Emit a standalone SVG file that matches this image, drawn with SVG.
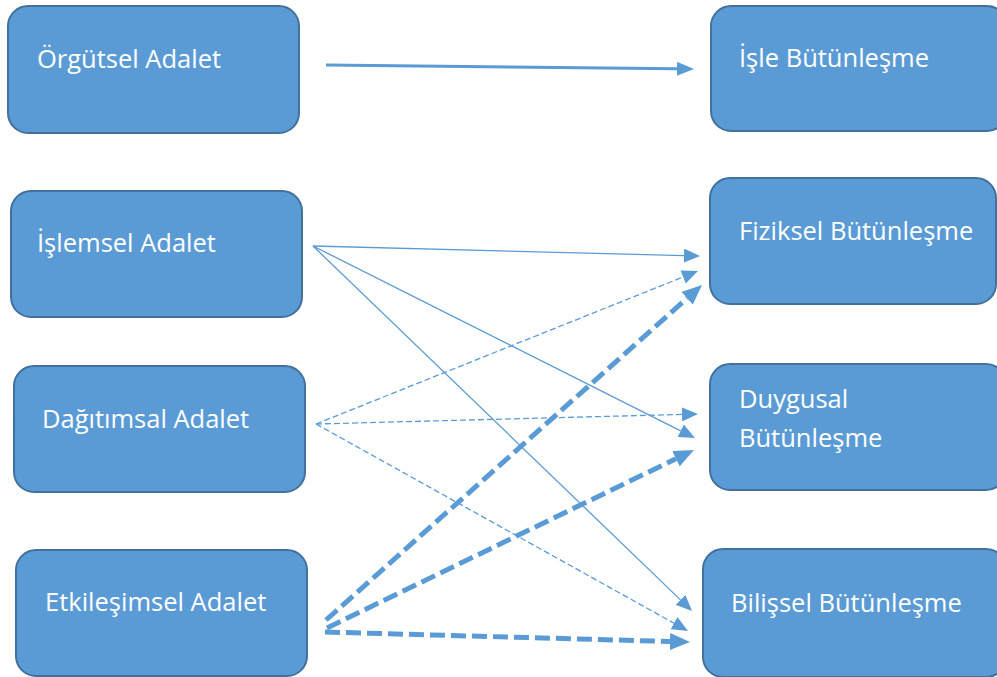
<svg xmlns="http://www.w3.org/2000/svg" width="997" height="677" viewBox="0 0 997 677">
<style>
.box{fill:#5B9BD5;stroke:#41719C;stroke-width:2}
.lbl{fill:#FFFFFF;font-family:"Open Sans","Liberation Sans",sans-serif;font-size:25.5px}
.c{fill:none;stroke:#5B9BD5;stroke-linecap:butt}
.solid{stroke-width:1.3}
.dash{stroke-width:1.3;stroke-dasharray:6 3}
.thick{stroke-width:5;stroke-dasharray:15 6}
.main{stroke-width:3}
</style>
<defs>
<marker id="aS" markerUnits="userSpaceOnUse" markerWidth="16" markerHeight="14" refX="0" refY="7" orient="auto"><path d="M0,0 L16,7 L0,14 z" fill="#5B9BD5"/></marker>
<marker id="aM" markerUnits="userSpaceOnUse" markerWidth="17" markerHeight="14" refX="0" refY="7" orient="auto"><path d="M0,0 L17,7 L0,14 z" fill="#5B9BD5"/></marker>
<marker id="aL" markerUnits="userSpaceOnUse" markerWidth="20" markerHeight="17" refX="0" refY="8.5" orient="auto"><path d="M0,0 L20,8.5 L0,17 z" fill="#5B9BD5"/></marker>
</defs>
<g id="n-orgutsel"><rect class="box" x="8" y="6" width="291" height="127" rx="20"/><text class="lbl" x="37" y="68">Örgütsel Adalet</text></g>
<g id="n-islemsel"><rect class="box" x="11" y="191" width="291" height="126" rx="20"/><text class="lbl" x="37" y="252">İşlemsel Adalet</text></g>
<g id="n-dagitimsal"><rect class="box" x="14" y="366" width="291" height="126" rx="20"/><text class="lbl" x="42" y="428">Dağıtımsal Adalet</text></g>
<g id="n-etkilesimsel"><rect class="box" x="16" y="550" width="291" height="126" rx="20"/><text class="lbl" x="45" y="611">Etkileşimsel Adalet</text></g>
<g id="n-isle"><rect class="box" x="711" y="6" width="296" height="125" rx="20"/><text class="lbl" x="739" y="67">İşle Bütünleşme</text></g>
<g id="n-fiziksel"><rect class="box" x="710" y="178" width="286" height="126" rx="20"/><text class="lbl" x="739" y="240">Fiziksel Bütünleşme</text></g>
<g id="n-duygusal"><rect class="box" x="710" y="364" width="296" height="126" rx="20"/><text class="lbl" x="739" y="408">Duygusal</text><text class="lbl" x="739" y="447">Bütünleşme</text></g>
<g id="n-bilissel"><rect class="box" x="703" y="549" width="303" height="128" rx="20"/><text class="lbl" x="731" y="612">Bilişsel Bütünleşme</text></g>
<g id="connectors">
<line class="c main" x1="326" y1="65" x2="677" y2="68.8" marker-end="url(#aM)"/>
<line class="c solid" x1="313" y1="246" x2="684" y2="255.6" marker-end="url(#aS)"/>
<line class="c solid" x1="313" y1="246" x2="680.7" y2="430.8" marker-end="url(#aS)"/>
<line class="c solid" x1="313" y1="246" x2="680.5" y2="599.9" marker-end="url(#aS)"/>
<line class="c dash" x1="316" y1="424" x2="683.1" y2="277" marker-end="url(#aS)"/>
<line class="c dash" x1="316" y1="424" x2="682" y2="414.4" marker-end="url(#aS)"/>
<line class="c dash" x1="316" y1="424" x2="674" y2="623.2" marker-end="url(#aS)"/>
<line class="c thick" x1="326" y1="620" x2="687.1" y2="298.3" marker-end="url(#aL)"/>
<line class="c thick" x1="327" y1="628" x2="676" y2="458.7" marker-end="url(#aL)"/>
<line class="c thick" x1="325" y1="632" x2="670" y2="641.5" marker-end="url(#aL)"/>
</g>
</svg>
